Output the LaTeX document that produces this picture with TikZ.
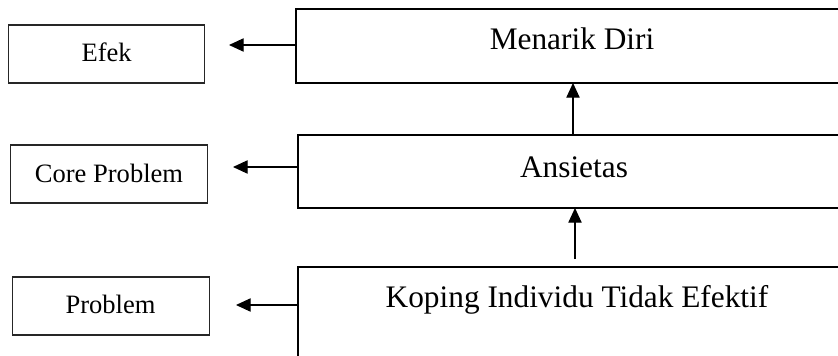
\documentclass[tikz,border=0pt]{standalone}
\usepackage{fontspec}
\setmainfont{Liberation Serif}
\usetikzlibrary{arrows.meta}
\begin{document}
\begin{tikzpicture}[x=0.75pt,y=-0.75pt,
  smallbox/.style={draw=black!85,line width=0.8pt,inner sep=0pt,outer sep=0pt,
    minimum width=147.5pt,minimum height=43.5pt},
  bigbox/.style={draw=black,line width=1.6pt,inner sep=0pt,outer sep=0pt},
  smalltext/.style={anchor=base,inner sep=0pt,font=\fontsize{19.9}{24}\selectfont},
  bigtext/.style={anchor=base,inner sep=0pt,font=\fontsize{23.5}{28}\selectfont},
  arr/.style={line width=0.8pt,-{Triangle[length=11pt,width=10pt]}}]
\clip (0,0) rectangle (838,356);
\fill[white] (0,0) rectangle (838,356);
% left boxes
\node[smallbox] (efek) at (106.5,54) {};
\node[smallbox] (core) at (109,174) {};
\node[smallbox] (prob) at (111,306) {};
\node[smalltext] (efekT) at (106.7,62) {Efek};
\node[smalltext] (coreT) at (109,182) {Core Problem};
\node[smalltext] (probT) at (110.5,313) {Problem};
% right boxes
\node[bigbox,minimum width=453pt,minimum height=55.5pt] (menarik) at (598,46) {};
\node[bigbox,minimum width=451.5pt,minimum height=54.75pt] (ansietas) at (599,171.5) {};
\node[bigbox,minimum width=451.5pt,minimum height=99.75pt] (koping) at (599,333.5) {};
\node[bigtext] (menarikT) at (572,50) {Menarik Diri};
\node[bigtext] (ansietasT) at (574,177) {Ansietas};
\node[bigtext] (kopingT) at (577,307) {Koping Individu Tidak Efektif};
% arrow ends
\coordinate (t1) at (229,45);
\coordinate (t2) at (233,167);
\coordinate (t3) at (236,305);
\coordinate (s2) at (298,167);
\coordinate (s3) at (298,305);
\coordinate (u1s) at (573,135);
\coordinate (u1e) at (573,83);
\coordinate (u2s) at (575,259);
\coordinate (u2e) at (575,208);
\draw[arr] (menarik.west |- t1) -- (t1);
\draw[arr] (s2) -- (t2);
\draw[arr] (s3) -- (t3);
\draw[arr] (u1s) -- (u1e);
\draw[arr] (u2s) -- (u2e);
\end{tikzpicture}
\end{document}
